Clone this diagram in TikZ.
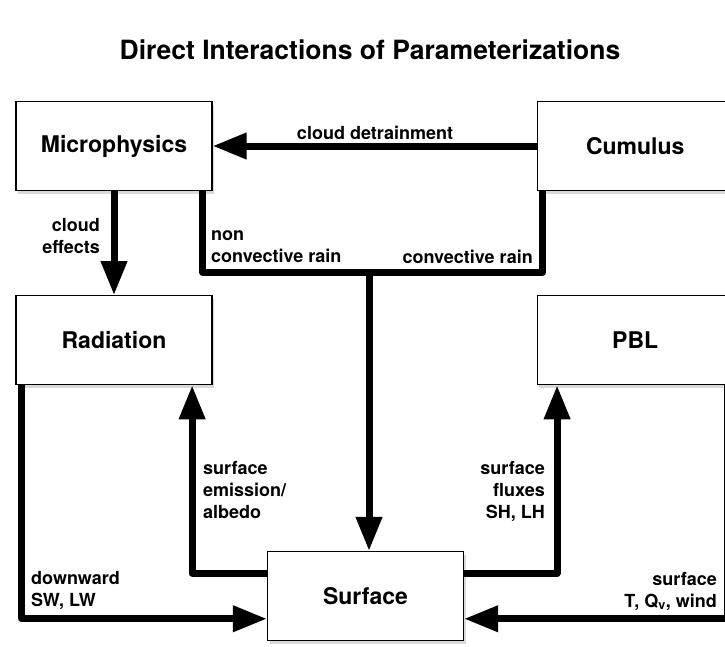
\documentclass[tikz,border=0pt]{standalone}
\usepackage{fontspec}
\setmainfont{TeX Gyre Heros}
\usepackage{tikz}
\usetikzlibrary{arrows.meta,shapes,positioning,shadows}

\begin{document}
\begin{tikzpicture}[x=1pt, y=-1pt,
		box/.style   = {draw, line width=1.2pt, fill=white, rectangle, minimum width=196pt, minimum height=89pt, inner sep=0pt, drop shadow={shadow xshift=2pt, shadow yshift=-3pt, opacity=0.3}, font=\fontsize{23}{28}\selectfont\bfseries},
		lbl/.style   = {inner sep=0pt, font=\fontsize{18}{22}\selectfont\bfseries},
		flow/.style  = {->, line width=7pt, line join=round},
		>={Triangle[length=34pt, width=25pt]}]
		
		\useasboundingbox (0,0) rectangle (725,646);
		\clip (0,0) rectangle (725,646);
		
		% title
		\node[font=\fontsize{26.5}{32}\selectfont\bfseries, anchor=base] (title) at (370,59) {Direct Interactions of Parameterizations};
		
		% the five parameterizations
		\node[box] (micro) at (114,146) {Microphysics};
		\node[box, right=324pt of micro] (cumulus) {Cumulus};
		\node[box, below=104pt of micro] (rad) {Radiation};
		\node[box, below=104pt of cumulus] (pbl) {PBL};
		\node[box] (surface) at (365.5,596) {Surface};
		
		% rain from both cloud schemes joins above the surface
		\coordinate (join) at (369,272);
		
		% connectors
		\draw[flow] (cumulus.west) -- (micro.east);
		\draw[flow] (micro.south) -- (rad.north);
		\draw[line width=7pt, line join=round] (micro.333) |- (join) -| (cumulus.206);
		\draw[flow] (join) -- (join |- surface.north);
		\draw[flow] (rad.206) |- (surface.193);
		\draw[flow] (surface.167) -| (rad.330);
		\draw[flow] (surface.13) -| (pbl.210);
		\draw[flow] (pbl.334) |- (surface.347);
		
		% labels of the connectors
		\begin{scope}[every node/.style={lbl}]
			\node[anchor=base] (detr) at (375,139) {cloud detrainment};
			\node[anchor=base east, align=right] (effects) at (100,253) {cloud\\effects};
			\node[anchor=base west, align=left] (nonconv) at (211,262) {non\\convective rain};
			\node[anchor=base east] (conv) at (533,263) {convective rain};
			\node[anchor=base west, align=left] (emis) at (203,518) {surface\\emission/\\albedo};
			\node[anchor=base east, align=right] (flux) at (545,518) {surface\\fluxes\\SH, LH};
			\node[anchor=base west, align=left] (down) at (31,606) {downward\\SW, LW};
			\node[anchor=base east, align=right] (sfc) at (717,607) {surface\\T, Q\textsubscript{v}, wind};
		\end{scope}
		
	\end{tikzpicture}
\end{document}
